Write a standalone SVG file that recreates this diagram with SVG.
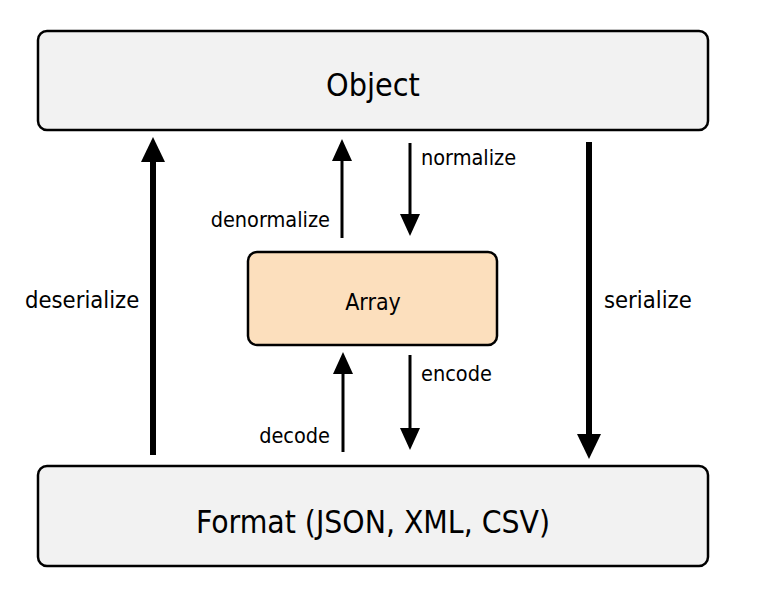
<svg xmlns="http://www.w3.org/2000/svg" width="765" height="609" viewBox="0 0 765 609">
  <style>
    text { font-family: "DejaVu Sans Condensed", "Liberation Sans", sans-serif; font-stretch: condensed; fill: #000; }
    .box { stroke: #000; stroke-width: 2.5; }
    .gray { fill: #f2f2f2; }
    .peach { fill: #fcdfbd; }
    .big { font-size: 32px; }
    .arr { font-size: 23px; }
    .mid { font-size: 23.6px; }
    .small { font-size: 21.5px; }
    .thick { stroke: #000; stroke-width: 6; fill: none; }
    .thin { stroke: #000; stroke-width: 3; fill: none; }
  </style>
  <rect width="765" height="609" fill="#fff"/>

  <g id="object">
    <rect class="box gray" x="38" y="31" width="670" height="99" rx="9"/>
    <text class="big" x="373" y="96" text-anchor="middle">Object</text>
  </g>

  <g id="array">
    <rect class="box peach" x="248" y="252" width="249" height="93" rx="9"/>
    <text class="arr" x="373" y="310" text-anchor="middle">Array</text>
  </g>

  <g id="format">
    <rect class="box gray" x="38" y="466" width="670" height="100" rx="9"/>
    <text class="big" x="373" y="533" text-anchor="middle" textLength="354" lengthAdjust="spacingAndGlyphs">Format (JSON, XML, CSV)</text>
  </g>

  <g id="connectors">
    <!-- deserialize: Format up to Object -->
    <line class="thick" x1="153" y1="455" x2="153" y2="160"/>
    <polygon points="153,137 141,162 165,162" fill="#000"/>
    <!-- serialize: Object down to Format -->
    <line class="thick" x1="589" y1="142" x2="589" y2="435"/>
    <polygon points="589,459 577,434 601,434" fill="#000"/>
    <!-- denormalize: Array up to Object -->
    <line class="thin" x1="342" y1="238" x2="342" y2="158"/>
    <polygon points="342,139 332,161 352,161" fill="#000"/>
    <!-- normalize: Object down to Array -->
    <line class="thin" x1="410" y1="143" x2="410" y2="215"/>
    <polygon points="410,236 400,214 420,214" fill="#000"/>
    <!-- decode: Format up to Array -->
    <line class="thin" x1="343" y1="452" x2="343" y2="372"/>
    <polygon points="343,352 333,374 353,374" fill="#000"/>
    <!-- encode: Array down to Format -->
    <line class="thin" x1="410" y1="355" x2="410" y2="430"/>
    <polygon points="410,450 400,428 420,428" fill="#000"/>

    <text class="mid" x="25" y="308">deserialize</text>
    <text class="mid" x="604" y="308">serialize</text>
    <text class="small" x="421" y="165">normalize</text>
    <text class="small" x="330" y="227" text-anchor="end">denormalize</text>
    <text class="small" x="421" y="381">encode</text>
    <text class="small" x="330" y="443" text-anchor="end">decode</text>
  </g>
</svg>
